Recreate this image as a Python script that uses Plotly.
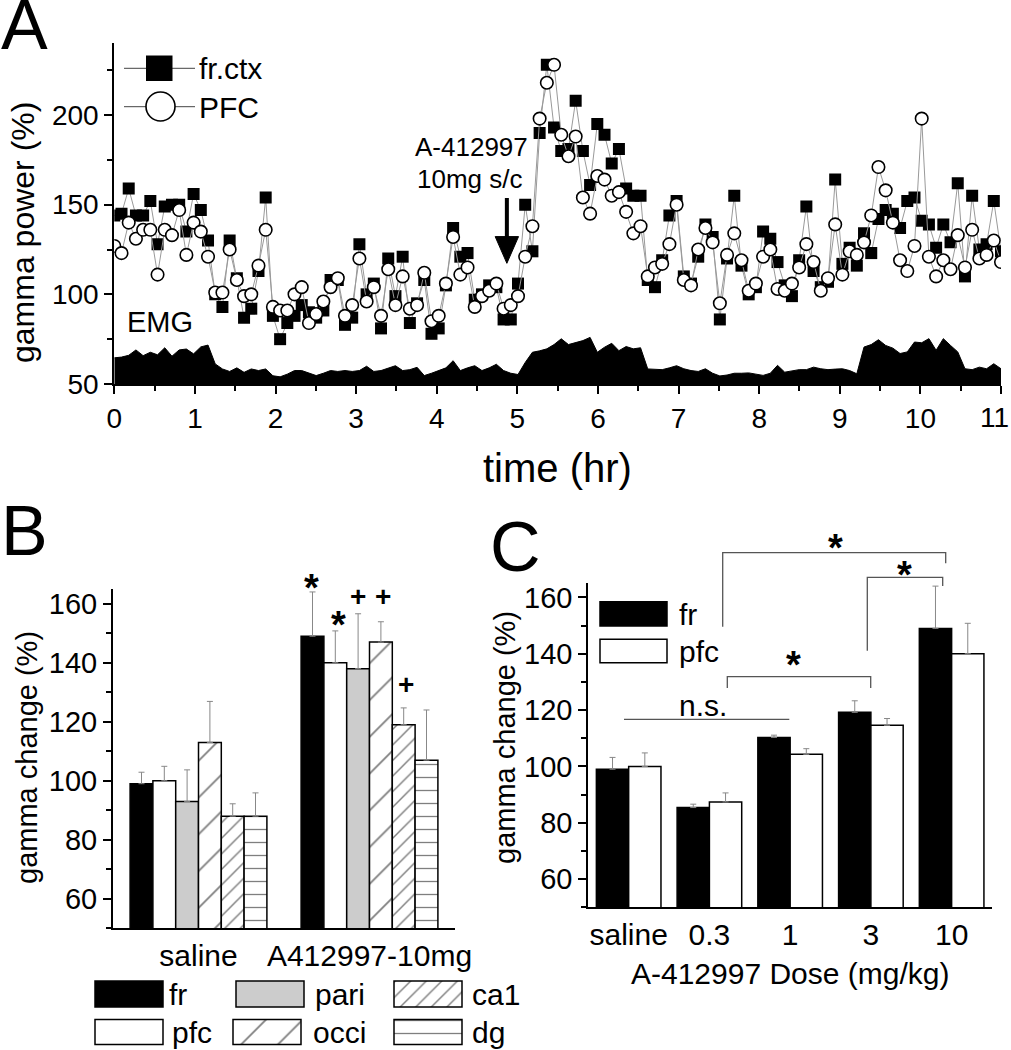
import plotly.graph_objects as go

W, H = 1011, 1050
FONT = "Arial, Liberation Sans, sans-serif"

# ---------------- panel A : gamma power over time (5.4 min bins, 0-11 h)
fr_ctx = [144, 145, 159, 144, 144, 152, 128, 149, 150, 150, 135, 156, 147, 130, 100, 93,
          130, 109, 87, 92, 113, 154, 88, 75, 84, 88, 94, 90, 87, 91, 108, 108,
          83, 87, 128, 100, 106, 81, 120, 99, 121, 84, 95, 108, 78, 81, 105, 137,
          121, 123, 97, 100, 105, 104, 86, 86, 106, 150, 124, 190, 228, 193, 180, 181,
          208, 180, 161, 195, 189, 173, 181, 159, 155, 155, 108, 104, 119, 144, 152, 110,
          106, 121, 139, 132, 86, 120, 155, 116, 100, 104, 135, 131, 118, 105, 99, 119,
          149, 113, 104, 107, 164, 117, 126, 116, 134, 123, 142, 147, 145, 137, 152, 154,
          141, 139, 126, 139, 129, 162, 110, 155, 125, 128, 152, 124]
pfc = [127, 123, 140, 131, 136, 136, 111, 136, 133, 147, 122, 140, 135, 121, 101, 101,
       125, 108, 99, 100, 116, 136, 93, 91, 91, 100, 104, 84, 89, 96, 104, 109,
       88, 94, 120, 96, 104, 88, 114, 94, 110, 92, 94, 112, 85, 88, 106, 132,
       111, 115, 93, 99, 102, 106, 92, 94, 99, 121, 138, 198, 218, 228, 189, 177,
       188, 154, 145, 166, 164, 155, 157, 146, 134, 138, 110, 115, 117, 128, 150, 108,
       105, 125, 137, 129, 95, 122, 134, 119, 102, 106, 121, 125, 103, 102, 106, 115,
       128, 118, 102, 109, 139, 111, 124, 122, 129, 144, 171, 158, 140, 119, 113, 127,
       198, 121, 110, 119, 114, 133, 115, 136, 120, 122, 130, 118]
emg = [64.6, 65, 66, 69, 65.8, 67.7, 66.3, 70.2, 65.5, 69, 69.5, 66.8, 70.7, 71.7, 61.2, 58.4,
       57, 59, 56.5, 58.4, 57.5, 58.4, 54.6, 54, 55.5, 57.5, 57.5, 56, 54.7, 56, 57.5, 57,
       57.5, 57, 57.5, 59.9, 57, 57.5, 59, 60.2, 57.5, 58, 59.3, 54.7, 56, 57.5, 59, 63,
       57.5, 59, 60.2, 57.5, 59, 61, 57.5, 56, 55.3, 62, 67.7, 68.5, 69.6, 72, 75.2, 72,
       73, 74.2, 76, 67.7, 70.5, 72.7, 68.6, 70.9, 69.6, 70.2, 58.4, 58, 58, 59, 60.2, 58.5,
       57.5, 57, 58.5, 56, 54.5, 55, 56, 56, 56.2, 55.5, 54.8, 56, 60.4, 56.6, 57.5, 58,
       58, 59.4, 58.5, 58, 58.3, 58.5, 57.5, 55.7, 70.6, 72, 74.7, 71.5, 70, 67, 67.9, 73.4,
       73, 75.3, 68.8, 75.3, 71.5, 67.9, 58.5, 58, 59.4, 58.5, 61.3, 58.5]
time_hr = [11 * i / (len(fr_ctx) - 1) for i in range(len(fr_ctx))]
inject_hr = 4.87
hour_ticks = list(range(12))
hour_labels = [str(h) for h in hour_ticks]

# ---------------- panel B : regions, saline vs drug
b_groups = ["saline", "A412997-10mg"]
b_fr, b_fr_err = [99, 149], [3.9, 15]
b_pfc, b_pfc_err = [100, 140], [4.9, 10.8]
b_pari, b_pari_err = [93, 138], [10.7, 18.6]
b_occi, b_occi_err = [113, 147], [13.9, 6.9]
b_ca1, b_ca1_err = [88, 119], [4.2, 5.7]
b_dg, b_dg_err = [88, 107], [7.9, 17]

# ---------------- panel C : dose response
doses = ["saline", "0.3", "1", "3", "10"]
c_fr, c_fr_err = [99, 85.4, 110.3, 119.2, 149], [4.2, 1.2, 0.8, 4.1, 15]
c_pfc, c_pfc_err = [100, 87.4, 104.3, 114.6, 140], [4.8, 3.2, 2.0, 2.4, 10.8]


def px(x):
    return x / W


def py(y):
    return 1 - y / H


def ppath(points):
    return "M " + " L ".join(f"{px(x):.5f},{py(y):.5f}" for x, y in points)


hatch_wide = dict(shape="/", size=26, solidity=0.07, fgcolor="black", bgcolor="white")
hatch_dense = dict(shape="/", size=11, solidity=0.13, fgcolor="black", bgcolor="white")
hatch_horiz = dict(shape="-", size=13, solidity=0.1, fgcolor="black", bgcolor="white")

styles = {
    "fr": dict(color="black"),
    "pfc": dict(color="white"),
    "pari": dict(color="#cccccc"),
    "occi": dict(color="white", pattern=hatch_wide),
    "ca1": dict(color="white", pattern=hatch_dense),
    "dg": dict(color="white", pattern=hatch_horiz),
}

fig = go.Figure()

# ---- A
fig.add_trace(go.Scatter(x=time_hr, y=emg, mode="lines", fill="tozeroy",
                         fillcolor="black", line=dict(color="black", width=1),
                         xaxis="x", yaxis="y", showlegend=False))
fig.add_trace(go.Scatter(x=time_hr, y=fr_ctx, mode="lines+markers",
                         line=dict(color="#999999", width=1),
                         marker=dict(symbol="square", size=12, color="black"),
                         xaxis="x", yaxis="y", showlegend=False))
fig.add_trace(go.Scatter(x=time_hr, y=pfc, mode="lines+markers",
                         line=dict(color="#999999", width=1),
                         marker=dict(symbol="circle", size=12.5, color="white",
                                     line=dict(color="black", width=1.6)),
                         xaxis="x", yaxis="y", showlegend=False))

# ---- B
b_series = [("fr", b_fr, b_fr_err), ("pfc", b_pfc, b_pfc_err), ("pari", b_pari, b_pari_err),
            ("occi", b_occi, b_occi_err), ("ca1", b_ca1, b_ca1_err), ("dg", b_dg, b_dg_err)]
for name, vals, err in b_series:
    fig.add_trace(go.Bar(x=b_groups, y=vals, name=name, xaxis="x2", yaxis="y2",
                         marker=dict(line=dict(color="black", width=1.5), **styles[name]),
                         error_y=dict(type="data", symmetric=False, array=err,
                                      arrayminus=[0] * len(err), color="#888888",
                                      thickness=1, width=3),
                         showlegend=False))

# ---- C
for name, vals, err in [("fr", c_fr, c_fr_err), ("pfc", c_pfc, c_pfc_err)]:
    fig.add_trace(go.Bar(x=doses, y=vals, name=name, xaxis="x3", yaxis="y3",
                         marker=dict(line=dict(color="black", width=1.5), **styles[name]),
                         error_y=dict(type="data", symmetric=False, array=err,
                                      arrayminus=[0] * len(err), color="#888888",
                                      thickness=1, width=3),
                         showlegend=False))

# ---- B legend boxes (drawn on a small helper axis in pixel units)
leg_items = [("fr", 95, 994, 26), ("pari", 236, 994, 26), ("ca1", 394, 994, 26),
             ("pfc", 95, 1032, 25), ("occi", 233, 1032, 25), ("dg", 394, 1032, 25)]
for name, x0, yc, hgt in leg_items:
    fig.add_trace(go.Bar(x=[68], y=[yc], base=[x0], width=[hgt], offset=[-hgt / 2],
                         orientation="h", xaxis="x4", yaxis="y4", showlegend=False,
                         marker=dict(line=dict(color="black", width=1.5), **styles[name])))

axis_common = dict(showline=True, linecolor="black", linewidth=2, showgrid=False,
                   zeroline=False, tickcolor="black", tickwidth=1.5, automargin=False,
                   ticklabeloverflow="allow")


def tickfont(size):
    return dict(family=FONT, size=size, color="black")


ann = []


def text(x, y, s, size=30, xanchor="center", angle=0, bold=False):
    ann.append(dict(x=px(x), y=py(y), xref="paper", yref="paper", text=f"<b>{s}</b>" if bold else s,
                    showarrow=False, xanchor=xanchor, yanchor="middle", textangle=angle,
                    font=dict(family=FONT, size=size, color="black")))


# panel letters
text(24, 25, "A", 70)
text(24, 531, "B", 70)
text(515, 547, "C", 70)
# panel A texts
text(23, 233, "gamma power (%)", 32, angle=-90)
text(557, 468, "time (hr)", 40)
text(197, 68, "fr.ctx", 30, xanchor="left")
text(197, 107, "PFC", 30, xanchor="left")
text(160, 322, "EMG", 29)
text(471, 147, "A-412997", 26)
text(470, 179, "10mg s/c", 26)
# last hour label sits at the page edge: right-align it inside the page
text(1011, 418, hour_labels[-1], 28, xanchor="right")
# panel B texts
text(27, 758, "gamma change (%)", 29, angle=-90)
for x, y, s, sz in [(311, 588, "*", 38), (338, 625, "*", 38), (358, 596, "+", 28),
                    (383, 596, "+", 28), (406, 684, "+", 28)]:
    text(x, y, s, sz, bold=True)
for x, y, s in [(167, 994, "fr"), (313, 994, "pari"), (470, 994, "ca1"),
                (170, 1032, "pfc"), (311, 1032, "occi"), (470, 1032, "dg")]:
    text(x, y, s, 30, xanchor="left")
# panel C texts
text(505, 738, "gamma change (%)", 29, angle=-90)
text(790, 973, "A-412997 Dose (mg/kg)", 30)
text(677, 614, "fr", 30, xanchor="left")
text(677, 651, "pfc", 30, xanchor="left")
text(703, 705, "n.s.", 30)
for x, y in [(793, 665), (904, 575), (835, 548)]:
    text(x, y, "*", 38, bold=True)

shapes = [
    # panel A legend
    dict(type="line", xref="paper", yref="paper", x0=px(124), x1=px(195), y0=py(68.3), y1=py(68.3),
         line=dict(color="#444444", width=1)),
    dict(type="rect", xref="paper", yref="paper", x0=px(146), x1=px(172.5), y0=py(81), y1=py(55.5),
         fillcolor="black", line=dict(width=0)),
    dict(type="line", xref="paper", yref="paper", x0=px(124), x1=px(195), y0=py(106.7), y1=py(106.7),
         line=dict(color="#444444", width=1)),
    dict(type="circle", xref="paper", yref="paper", x0=px(146), x1=px(175), y0=py(121), y1=py(92),
         fillcolor="white", line=dict(color="black", width=1.6)),
    # injection arrow
    dict(type="line", xref="x", yref="y", x0=inject_hr, x1=inject_hr, y0=153.7, y1=131,
         line=dict(color="black", width=4)),
    dict(type="path", xref="x", yref="y",
         path=f"M {inject_hr - 0.145},132.2 L {inject_hr + 0.145},132.2 L {inject_hr},117.3 Z",
         fillcolor="black", line=dict(color="black", width=1)),
    # panel C legend
    dict(type="rect", xref="paper", yref="paper", x0=px(600), x1=px(667), y0=py(626), y1=py(601.7),
         fillcolor="black", line=dict(color="black", width=1.5)),
    dict(type="rect", xref="paper", yref="paper", x0=px(600), x1=px(667), y0=py(662.7), y1=py(639.3),
         fillcolor="white", line=dict(color="black", width=1.5)),
    # panel C brackets
    dict(type="line", xref="paper", yref="paper", x0=px(624), x1=px(789.3), y0=py(719.3), y1=py(719.3),
         line=dict(color="#555555", width=1.3)),
]
for pts in [[(727.3, 688), (727.3, 676.7), (870.7, 676.7), (870.7, 688)],
            [(867.3, 650.7), (867.3, 577.3), (942.7, 577.3), (942.7, 586)],
            [(722.7, 626.7), (722.7, 552.7), (945.7, 552.7), (945.7, 563.3)]]:
    shapes.append(dict(type="path", xref="paper", yref="paper", path=ppath(pts),
                       line=dict(color="#555555", width=1.3)))

minor_a_x = dict(dtick=0.5, ticks="outside", ticklen=5, tickcolor="black", tickwidth=1.5)
minor_a_y = dict(tick0=50, dtick=25, ticks="outside", ticklen=5, tickcolor="black", tickwidth=1.5)
minor_bc = dict(tick0=50, dtick=10, ticks="outside", ticklen=5, tickcolor="black", tickwidth=1.5)

fig.update_layout(
    width=W, height=H, margin=dict(l=0, r=0, t=0, b=0, autoexpand=False),
    paper_bgcolor="white", plot_bgcolor="white",
    barmode="group", bargap=0.2, bargroupgap=0,
    font=dict(family=FONT, color="black"),
    xaxis=dict(domain=[px(114.3), px(1001)], anchor="y", range=[0, 11],
               tickmode="array", tickvals=hour_ticks, ticktext=hour_labels[:-1] + [""],
               ticks="outside", ticklen=8, minor=minor_a_x, tickfont=tickfont(28), **axis_common),
    yaxis=dict(domain=[py(384), py(43.3)], anchor="x", range=[50, 240], tick0=50, dtick=50,
               ticks="outside", ticklen=8, minor=minor_a_y, tickfont=tickfont(28), **axis_common),
    xaxis2=dict(domain=[px(113), px(455)], anchor="y2", ticks="", tickfont=tickfont(30), **axis_common),
    yaxis2=dict(domain=[py(928.3), py(589)], anchor="x2", range=[50, 165], tick0=60, dtick=20,
                ticks="outside", ticklen=8, minor=minor_bc, tickfont=tickfont(29), **axis_common),
    xaxis3=dict(domain=[px(588.3), px(992)], anchor="y3", ticks="", tickfont=tickfont(30), **axis_common),
    yaxis3=dict(domain=[py(907.3), py(583.3)], anchor="x3", range=[50, 165], tick0=60, dtick=20,
                ticks="outside", ticklen=8, minor=minor_bc, tickfont=tickfont(29), **axis_common),
    xaxis4=dict(domain=[px(90), px(480)], anchor="y4", range=[90, 480], visible=False, fixedrange=True),
    yaxis4=dict(domain=[py(1050), py(975)], anchor="x4", range=[1050, 975], visible=False, fixedrange=True),
    annotations=ann,
    shapes=shapes,
)

# the page's default body margin would push the fixed-size figure off the window
fig.write_html("out.html", config={"displayModeBar": False},
               post_script="document.body.style.margin='0';")
